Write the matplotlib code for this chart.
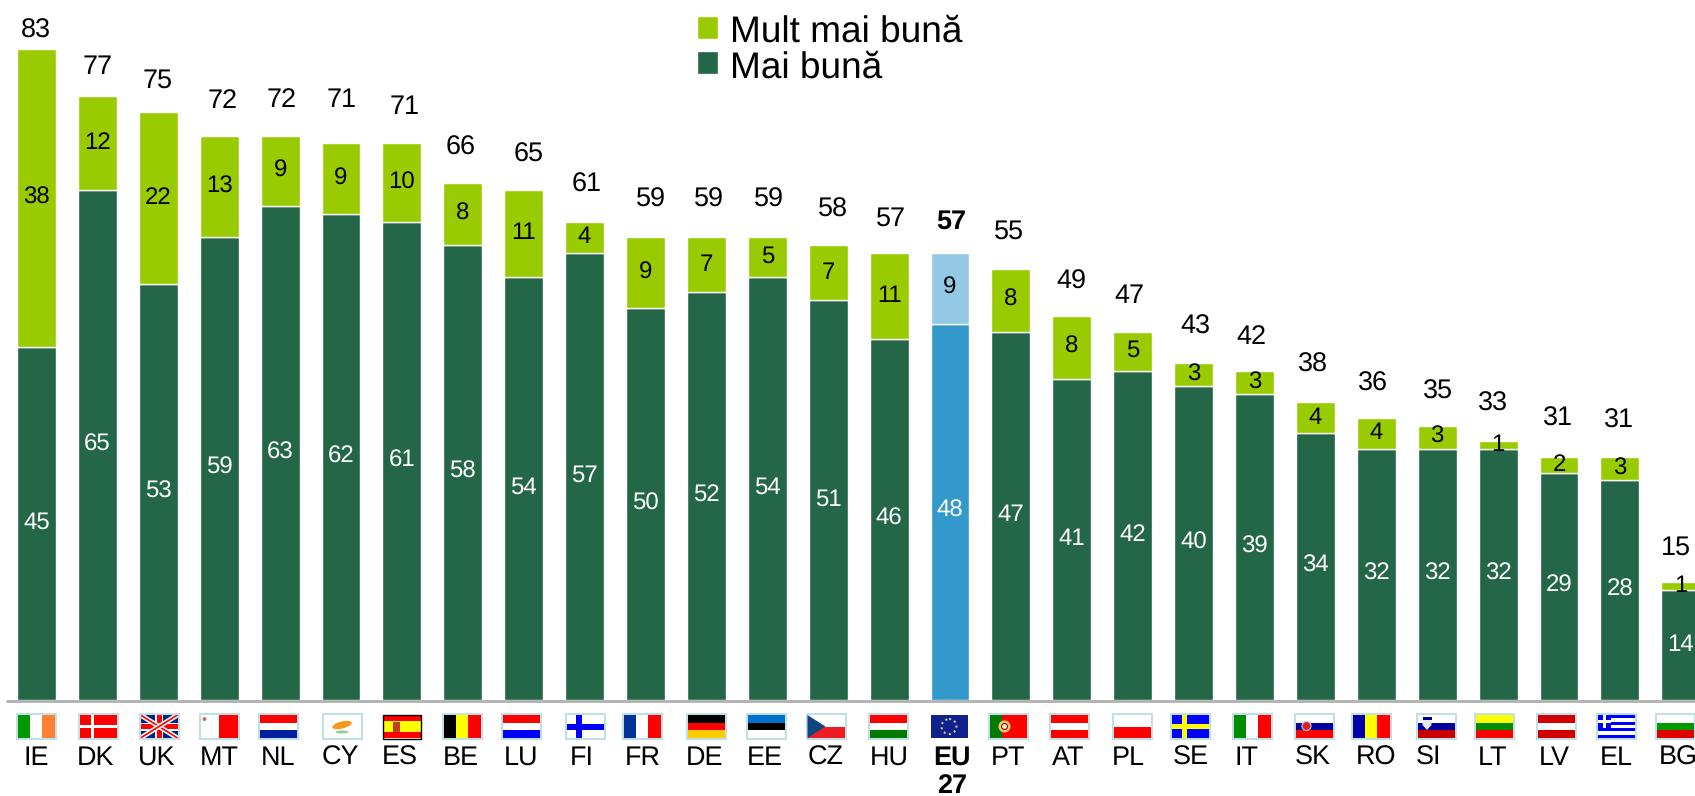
import matplotlib
matplotlib.use('Agg')
import matplotlib.pyplot as plt
from matplotlib.patches import Rectangle, Polygon, Ellipse, Circle

plt.rcParams['font.family'] = ['Liberation Sans', 'DejaVu Sans']
plt.rcParams['text.hinting'] = 'no_hinting'
plt.rcParams['text.hinting_factor'] = 1

#! Data
countries = ['IE', 'DK', 'UK', 'MT', 'NL', 'CY', 'ES', 'BE', 'LU', 'FI', 'FR', 'DE', 'EE', 'CZ',
             'HU', 'EU\n27', 'PT', 'AT', 'PL', 'SE', 'IT', 'SK', 'RO', 'SI', 'LT', 'LV', 'EL', 'BG']
mai_buna = [45, 65, 53, 59, 63, 62, 61, 58, 54, 57, 50, 52, 54, 51,
            46, 48, 47, 41, 42, 40, 39, 34, 32, 32, 32, 29, 28, 14]
mult_mai_buna = [38, 12, 22, 13, 9, 9, 10, 8, 11, 4, 9, 7, 5, 7,
                 11, 9, 8, 8, 5, 3, 3, 4, 4, 3, 1, 2, 3, 1]
totals = [83, 77, 75, 72, 72, 71, 71, 66, 65, 61, 59, 59, 59, 58,
          57, 57, 55, 49, 47, 43, 42, 38, 36, 35, 33, 31, 31, 15]

#! Hand placed text and flags, in pixels
total_x = [36, 98, 158, 223, 282, 342, 405, 461, 529, 587, 651, 709, 769, 833,
           891, 951, 1009, 1071, 1129, 1195, 1251, 1313, 1373, 1438, 1493, 1558, 1619, 1676]
total_y = [31, 67, 81, 101, 100, 100, 107, 148, 155, 185, 200, 200, 200, 210,
           219, 222, 232, 282, 296, 327, 337, 365, 384, 392, 404, 419, 421, 548]
label_x = [36, 96, 157, 219, 278, 340, 400, 461, 521, 582, 643, 705, 765, 826,
           889, 952, 1008, 1068, 1128, 1191, 1247, 1313, 1376, 1429, 1493, 1554, 1616, 1678]
flag_x = [36, 98, 159, 219, 278, 342, 402, 462, 521, 585, 642, 706, 766, 826,
          888, 949, 1008, 1069, 1132, 1190, 1252, 1314, 1371, 1436, 1494, 1556, 1616, 1675]

DARK = '#246648'
LIGHT = '#99cc00'
EU_DARK = '#3399cc'
EU_LIGHT = '#94c9e5'

# stripes of each flag: direction and colours
stripes = {
    'IE': ('v', ['#009a00', 'white', '#ff8033']),
    'DK': ('h', ['#ff0000']),
    'UK': ('h', ['#00247d']),
    'MT': ('v', ['white', '#ff0000']),
    'NL': ('h', ['#ff0000', 'white', '#00209f']),
    'CY': ('h', ['white']),
    'ES': ('h', ['#ff0000', '#ffff00', '#ffff00', '#ff0000']),
    'BE': ('v', ['black', '#ffff00', '#ff0000']),
    'LU': ('h', ['#ff0000', 'white', '#0000ff']),
    'FI': ('h', ['white']),
    'FR': ('v', ['#003399', 'white', '#ff0000']),
    'DE': ('h', ['black', '#ff0000', '#ffcc00']),
    'EE': ('h', ['#0072ce', 'black', 'white']),
    'CZ': ('h', ['white', '#ee1c25']),
    'HU': ('h', ['#ff0000', 'white', '#007a00']),
    'EU\n27': ('h', ['#10218b']),
    'PT': ('v', ['#007a00', '#ff0000', '#ff0000']),
    'AT': ('h', ['#ff0000', 'white', '#ff0000']),
    'PL': ('h', ['white', '#ff0000']),
    'SE': ('h', ['#0000ff']),
    'IT': ('v', ['#008c00', 'white', '#ff0000']),
    'SK': ('h', ['white', '#00009a', '#ff0000']),
    'RO': ('v', ['#0000a8', '#ffff00', '#ff0000']),
    'SI': ('h', ['white', '#00009a', '#c80000']),
    'LT': ('h', ['#ffff00', '#008c00', '#ff0000']),
    'LV': ('h', ['#d00000', 'white', '#d00000']),
    'EL': ('h', ['#0000ff', 'white', '#0000ff', 'white', '#0000ff', 'white', '#0000ff']),
    'BG': ('h', ['white', '#009a00', '#e00000']),
}


def draw_flag(pix, code, cx):
    w, h = 37, 23
    x0 = cx - w / 2
    y0 = 726.5 - h / 2
    if code not in ('ES', 'EU\n27'):
        pix.add_patch(Rectangle((x0 - 2, y0 - 2), w + 4, h + 4, fc='#bfe0e4', ec='none'))

    direction, colours = stripes[code]
    n = len(colours)
    for k, c in enumerate(colours):
        if direction == 'h':
            pix.add_patch(Rectangle((x0, y0 + k * h / n), w, h / n, fc=c, ec='none'))
        else:
            pix.add_patch(Rectangle((x0 + k * w / n, y0), w / n, h, fc=c, ec='none'))

    clip = Rectangle((x0, y0), w, h, transform=pix.transData)

    def cross(col_h, col_v, vx, t):
        pix.add_patch(Rectangle((x0, y0 + h / 2 - t / 2), w, t, fc=col_h, ec='none'))
        pix.add_patch(Rectangle((x0 + vx - t / 2, y0), t, h, fc=col_v, ec='none'))

    if code == 'DK':
        cross('white', 'white', 13, 3)
    elif code == 'FI':
        cross('#0000ff', '#0000ff', 12, 6)
    elif code == 'SE':
        cross('#ffff00', '#ffff00', 13, 5)
    elif code == 'UK':
        for a, b in [((x0, y0), (x0 + w, y0 + h)), ((x0, y0 + h), (x0 + w, y0))]:
            line, = pix.plot([a[0], b[0]], [a[1], b[1]], color='white', lw=3.5, solid_capstyle='butt')
            line.set_clip_path(clip)
            line, = pix.plot([a[0], b[0]], [a[1], b[1]], color='#ff0000', lw=1.2, solid_capstyle='butt')
            line.set_clip_path(clip)
        cross('white', 'white', w / 2, 8)
        cross('#ff0000', '#ff0000', w / 2, 5)
    elif code == 'MT':
        pix.add_patch(Circle((x0 + 4, y0 + 4), 2, fc='#c07070', ec='none'))
    elif code == 'CY':
        pix.add_patch(Ellipse((cx, y0 + 10), 20, 7, angle=-14, fc='#f59a1b', ec='none'))
        pix.add_patch(Ellipse((cx, y0 + 17), 13, 3, fc='#8fd08f', ec='none'))
    elif code == 'ES':
        pix.add_patch(Rectangle((x0 + 9, y0 + 7), 7, 10, fc='#c04020', ec='none'))
        pix.add_patch(Rectangle((x0 - 0.5, y0 - 0.5), w + 1, h + 1, fc='none', ec='black', lw=1))
    elif code == 'CZ':
        pix.add_patch(Polygon([(x0, y0), (x0 + 18, y0 + h / 2), (x0, y0 + h)], fc='#11457e', ec='none'))
    elif code == 'EU\n27':
        pix.add_patch(Circle((cx, y0 + h / 2), 7.5, fc='none', ec='#c8c8a0', lw=1.5, ls=(0, (1, 1.6))))
    elif code == 'PT':
        pix.add_patch(Circle((x0 + 15, y0 + h / 2), 6, fc='#f0d060', ec='none'))
        pix.add_patch(Circle((x0 + 15, y0 + h / 2), 3, fc='#e8e8f0', ec='#c00000', lw=0.8))
    elif code == 'SK':
        pix.add_patch(Circle((x0 + 11, y0 + 11), 4.5, fc='#e02020', ec='#c8c8e0', lw=0.8))
    elif code == 'SI':
        pix.add_patch(Polygon([(x0 + 5, y0 + 2), (x0 + 14, y0 + 2), (x0 + 14, y0 + 10), (x0 + 9.5, y0 + 15),
                               (x0 + 5, y0 + 10)], fc='#e8e8f0', ec='none'))
        pix.add_patch(Rectangle((x0 + 5, y0 + 2), 9, 3, fc='#00009a', ec='none'))
    elif code == 'EL':
        pix.add_patch(Rectangle((x0, y0), 13, h * 5 / 9, fc='#0000ff', ec='none'))
        pix.add_patch(Rectangle((x0, y0 + 5), 13, 3, fc='white', ec='none'))
        pix.add_patch(Rectangle((x0 + 5, y0), 3, h * 5 / 9, fc='white', ec='none'))


fig = plt.figure(figsize=(16.95, 7.96), dpi=100)

#! Bars, one bar unit is 60.9 px wide and one percent is 7.84 px high
ax = fig.add_axes([0, 1 - 700 / 796, 1, 700 / 796])
ax.set_xlim(-36.5 / 60.9, (1695 - 36.5) / 60.9)
ax.set_ylim(0, 700 / 7.84)
ax.axis('off')

xs = list(range(len(countries)))
dark_colors = [EU_DARK if c.startswith('EU') else DARK for c in countries]
light_colors = [EU_LIGHT if c.startswith('EU') else LIGHT for c in countries]

low = ax.bar(xs, mai_buna, width=0.64, color=dark_colors, edgecolor='white', linewidth=1, label='Mai bună')
high = ax.bar(xs, mult_mai_buna, width=0.64, bottom=mai_buna, color=light_colors, edgecolor='white',
              linewidth=1, label='Mult mai bună')

for i in xs:
    ax.text(i, mai_buna[i] / 2 + 0.1, str(mai_buna[i]), ha='center', va='center', color='white', fontsize=17.4)
    ax.text(i, mai_buna[i] + mult_mai_buna[i] / 2 + 0.05, str(mult_mai_buna[i]), ha='center', va='center',
            color='black', fontsize=17.4)

leg = fig.legend([high, low], ['Mult mai bună', 'Mai bună'], loc='upper left',
                 bbox_to_anchor=(690 / 1695, 1 - 8 / 796), fontsize=26.3, frameon=False, handlelength=0.58,
                 handleheight=0.58, handletextpad=0.32, labelspacing=0.02, borderpad=0.2, borderaxespad=0)
# squares sit a bit higher than the text
for patch in leg.get_patches():
    patch.set_y(patch.get_y() + 1.5)

#! Overlay in pixels for flags and hand placed labels
pix = fig.add_axes([0, 0, 1, 1], facecolor='none')
pix.set_xlim(0, 1695)
pix.set_ylim(796, 0)
pix.axis('off')

pix.plot([6, 1695], [701, 701], color='#b0b0b0', lw=2, solid_capstyle='butt')

for i, code in enumerate(countries):
    draw_flag(pix, code, flag_x[i])
    bold = code.startswith('EU')
    pix.text(total_x[i], total_y[i], str(totals[i]), ha='center', va='center', fontsize=19.2,
             fontweight='bold' if bold else 'normal')
    pix.text(label_x[i], 745, code, ha='center', va='top', fontsize=19.4, linespacing=1.15,
             fontweight='bold' if bold else 'normal')

fig.savefig('out.png', dpi=100)
